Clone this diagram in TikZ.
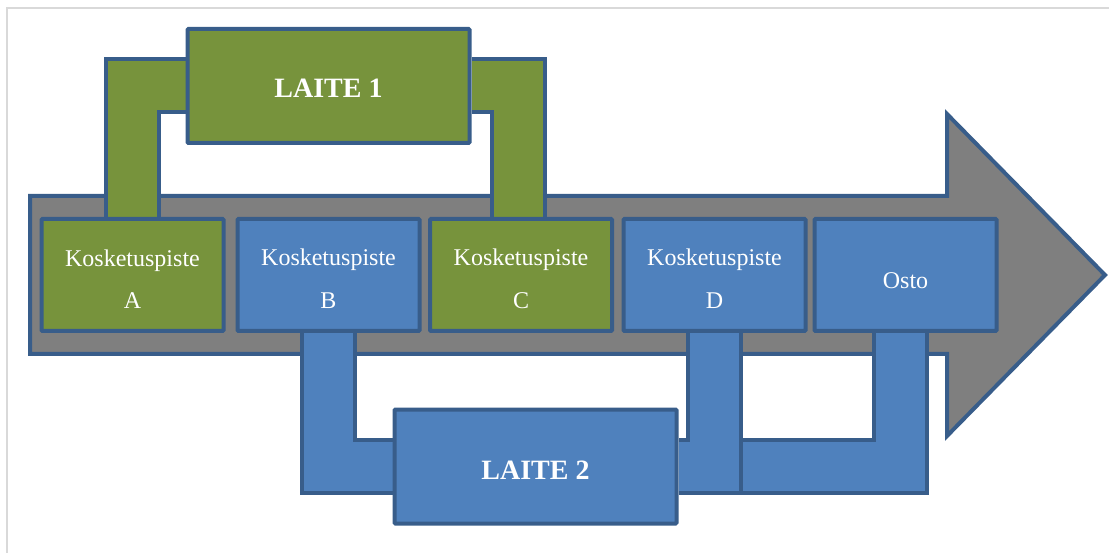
\documentclass[tikz,border=0pt]{standalone}
\usepackage{fontspec}
\setmainfont{Liberation Serif}

\definecolor{linecol}{HTML}{385D8A}
\definecolor{greenfill}{HTML}{77933C}
\definecolor{bluefill}{HTML}{4F81BD}
\definecolor{arrowfill}{HTML}{7F7F7F}
\definecolor{framecol}{HTML}{D9D9D9}

% pushes the text of a box a little down
\newcommand{\dropstrut}[1]{\rule{0pt}{#1}}

\pgfdeclarelayer{back}
\pgfdeclarelayer{links}
\pgfsetlayers{back,links,main}

\begin{document}
\begin{tikzpicture}[x=1pt,y=-1pt]
\tikzstyle{every node}=[rectangle,draw=linecol,line width=4pt,rounded corners=1pt,text=white,align=center,inner sep=0pt]
\tikzstyle{point}=[minimum width=182pt,minimum height=112pt,font=\fontsize{24}{43}\selectfont]
\tikzstyle{device}=[minimum width=282pt,minimum height=114pt,font=\bfseries\fontsize{28}{34}\selectfont]
\tikzstyle{greenlink}=[draw=linecol,line width=4pt,double=greenfill,double distance=49pt,line cap=butt,line join=miter]
\tikzstyle{bluelink}=[draw=linecol,line width=4pt,double=bluefill,double distance=49pt,line cap=butt,line join=miter]

\path[use as bounding box] (0,0) rectangle (1109,553);

% kosketuspisteet
\node[point,fill=greenfill] (A) at (132.5,275) {\dropstrut{25pt}Kosketuspiste\\A};
\node[point,fill=bluefill] (B) at (328.5,275) {\dropstrut{25pt}Kosketuspiste\\B};
\node[point,fill=greenfill] (C) at (521,275) {\dropstrut{25pt}Kosketuspiste\\C};
\node[point,fill=bluefill] (D) at (714.5,275) {\dropstrut{25pt}Kosketuspiste\\D};
\node[point,fill=bluefill] (Osto) at (905.5,275) {\dropstrut{28pt}Osto};

% laitteet
\node[device,fill=greenfill] (L1) at (328.5,86) {\dropstrut{24pt}LAITE 1};
\node[device,fill=bluefill] (L2) at (535.5,466.5) {\dropstrut{26pt}LAITE 2};

\begin{pgfonlayer}{links}
\draw[greenlink] (A.north) |- (L1.west);
\draw[greenlink] ([xshift=-3pt]C.north) |- (L1.east);
\draw[bluelink] (B.south) |- (L2.west);
\draw[bluelink] ([xshift=-5pt]Osto.south) |- (L2.east);
\draw[bluelink] (D.south) |- (L2.east);
\end{pgfonlayer}

\begin{pgfonlayer}{back}
\draw[framecol,line width=2pt] (7,553) -- (7,8) -- (1109,8);
%\draw[framecol] (1108,8) -- (1108,553);
\draw[fill=arrowfill,draw=linecol,line width=4pt] (30,196) -- (947,196) -- (947,114) -- (1105,275) -- (947,436) -- (947,354) -- (30,354) -- cycle;
\end{pgfonlayer}
\end{tikzpicture}
\end{document}
